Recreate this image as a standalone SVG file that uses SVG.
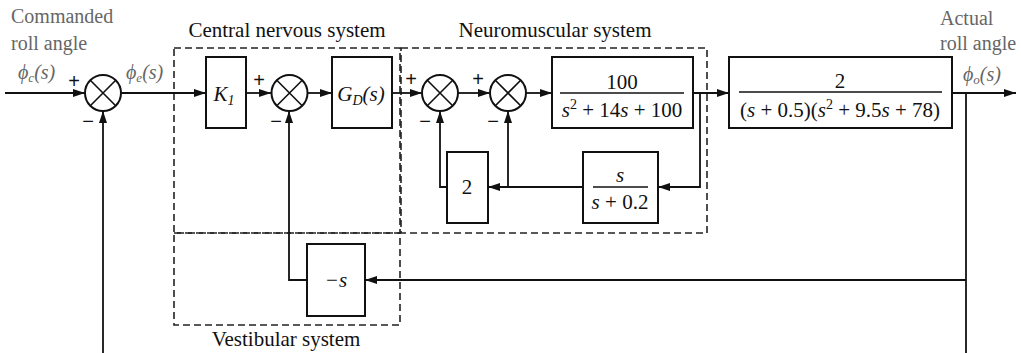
<svg xmlns="http://www.w3.org/2000/svg" width="1021" height="353" viewBox="0 0 1021 353">
<style>
.box{fill:#fff;stroke:#111;stroke-width:2}
.sum{fill:#fff;stroke:#111;stroke-width:2}
.x{stroke:#111;stroke-width:1.6}
.dash{fill:none;stroke:#222;stroke-width:1.6;stroke-dasharray:7 4}
.ln{fill:none;stroke:#111;stroke-width:1.8}
.t{font-family:"Liberation Serif","Times New Roman",serif;font-size:21px;fill:#111}
.g{font-family:"Liberation Serif","Times New Roman",serif;font-size:20px;fill:#666}
.i{font-style:italic}
.pm{font-family:"Liberation Sans",Arial,sans-serif;font-size:20px;fill:#111}
.frac{stroke:#111;stroke-width:1.5}
</style>
<defs>
<marker id="ah" viewBox="0 0 12 8" refX="12" refY="4" markerWidth="12" markerHeight="8" markerUnits="userSpaceOnUse" orient="auto">
<path d="M0,0 L12,4 L0,8 Z" fill="#111"/>
</marker>
</defs>
<rect width="1021" height="353" fill="#fff"/>

<g id="subsystems">
<rect class="dash" x="174" y="48" width="226" height="185"/>
<rect class="dash" x="174" y="233" width="226" height="92"/>
<rect class="dash" x="401" y="48" width="306" height="185"/>
<text class="t" x="287" y="37" text-anchor="middle">Central nervous system</text>
<text class="t" x="555" y="37" text-anchor="middle">Neuromuscular system</text>
<text class="t" x="286" y="346" text-anchor="middle">Vestibular system</text>
</g>

<g id="labels">
<text class="g" x="11" y="23">Commanded</text>
<text class="g" x="11" y="50">roll angle</text>
<text class="g" x="940" y="25">Actual</text>
<text class="g" x="940" y="50">roll angle</text>
<text class="g i" x="18" y="79">ϕ<tspan font-size="13" dy="3">c</tspan><tspan dy="-3">(s)</tspan></text>
<text class="g i" x="126" y="79">ϕ<tspan font-size="13" dy="3">e</tspan><tspan dy="-3">(s)</tspan></text>
<text class="g i" x="963" y="81">ϕ<tspan font-size="13" dy="3">o</tspan><tspan dy="-3">(s)</tspan></text>
</g>

<g id="connectors">
<path class="ln" d="M5,93 H85" marker-end="url(#ah)"/>
<path class="ln" d="M121,93 H206" marker-end="url(#ah)"/>
<path class="ln" d="M246,93 H271" marker-end="url(#ah)"/>
<path class="ln" d="M308,93 H332" marker-end="url(#ah)"/>
<path class="ln" d="M392,93 H422" marker-end="url(#ah)"/>
<path class="ln" d="M458,93 H490" marker-end="url(#ah)"/>
<path class="ln" d="M526,93 H552" marker-end="url(#ah)"/>
<path class="ln" d="M693,93 H729" marker-end="url(#ah)"/>
<path class="ln" d="M952,93 H1016" marker-end="url(#ah)"/>
<path class="ln" d="M700,93 V187 H658" marker-end="url(#ah)"/>
<path class="ln" d="M583,187 H488" marker-end="url(#ah)"/>
<path class="ln" d="M508,187 V111" marker-end="url(#ah)"/>
<path class="ln" d="M447,187 H440 V111" marker-end="url(#ah)"/>
<path class="ln" d="M966,93 V353"/>
<path class="ln" d="M966,280 H365" marker-end="url(#ah)"/>
<path class="ln" d="M307,280 H289 V111" marker-end="url(#ah)"/>
<path class="ln" d="M103,353 V111" marker-end="url(#ah)"/>
</g>

<g id="sum1">
<circle class="sum" cx="103" cy="93" r="18"/>
<path class="x" d="M90.3,80.3 L115.7,105.7 M115.7,80.3 L90.3,105.7"/>
<text class="pm" x="74" y="88" text-anchor="middle">+</text>
<text class="pm" x="88" y="128" text-anchor="middle">−</text>
</g>

<g id="k1">
<rect class="box" x="206" y="57" width="40" height="71"/>
<text class="t i" x="224" y="101" text-anchor="middle">K<tspan font-size="14" dy="4">1</tspan></text>
</g>

<g id="sum2">
<circle class="sum" cx="289.5" cy="93" r="18"/>
<path class="x" d="M276.8,80.3 L302.2,105.7 M302.2,80.3 L276.8,105.7"/>
<text class="pm" x="259" y="87" text-anchor="middle">+</text>
<text class="pm" x="276" y="128" text-anchor="middle">−</text>
</g>

<g id="gd">
<rect class="box" x="332" y="57" width="60" height="71"/>
<text class="t i" x="361" y="101" text-anchor="middle">G<tspan font-size="14" dy="4">D</tspan><tspan dy="-4">(s)</tspan></text>
</g>

<g id="sum3">
<circle class="sum" cx="440" cy="93" r="18"/>
<path class="x" d="M427.3,80.3 L452.7,105.7 M452.7,80.3 L427.3,105.7"/>
<text class="pm" x="411" y="86" text-anchor="middle">+</text>
<text class="pm" x="425" y="128" text-anchor="middle">−</text>
</g>

<g id="sum4">
<circle class="sum" cx="508" cy="93" r="18"/>
<path class="x" d="M495.3,80.3 L520.7,105.7 M520.7,80.3 L495.3,105.7"/>
<text class="pm" x="478" y="86" text-anchor="middle">+</text>
<text class="pm" x="493" y="128" text-anchor="middle">−</text>
</g>

<g id="actuator">
<rect class="box" x="552" y="57" width="141" height="71"/>
<text class="t" x="622" y="89" text-anchor="middle">100</text>
<line class="frac" x1="560" y1="93" x2="684" y2="93"/>
<text class="t" x="622" y="117" text-anchor="middle"><tspan class="i">s</tspan><tspan font-size="14" dy="-8">2</tspan><tspan dy="8"> + 14</tspan><tspan class="i">s</tspan> + 100</text>
</g>

<g id="aircraft">
<rect class="box" x="729" y="57" width="223" height="71"/>
<text class="t" x="840" y="88" text-anchor="middle">2</text>
<line class="frac" x1="739" y1="92" x2="942" y2="92"/>
<text class="t" x="840" y="117" text-anchor="middle">(<tspan class="i">s</tspan> + 0.5)(<tspan class="i">s</tspan><tspan font-size="14" dy="-8">2</tspan><tspan dy="8"> + 9.5</tspan><tspan class="i">s</tspan> + 78)</text>
</g>

<g id="gain2">
<rect class="box" x="447" y="152" width="41" height="71"/>
<text class="t" x="467" y="194" text-anchor="middle">2</text>
</g>

<g id="rate">
<rect class="box" x="583" y="152" width="75" height="71"/>
<text class="t i" x="620" y="182" text-anchor="middle">s</text>
<line class="frac" x1="593" y1="187" x2="648" y2="187"/>
<text class="t" x="620" y="209" text-anchor="middle"><tspan class="i">s</tspan> + 0.2</text>
</g>

<g id="vestibular">
<rect class="box" x="307" y="244" width="58" height="72"/>
<text class="t i" x="336" y="287" text-anchor="middle">−s</text>
</g>
</svg>
